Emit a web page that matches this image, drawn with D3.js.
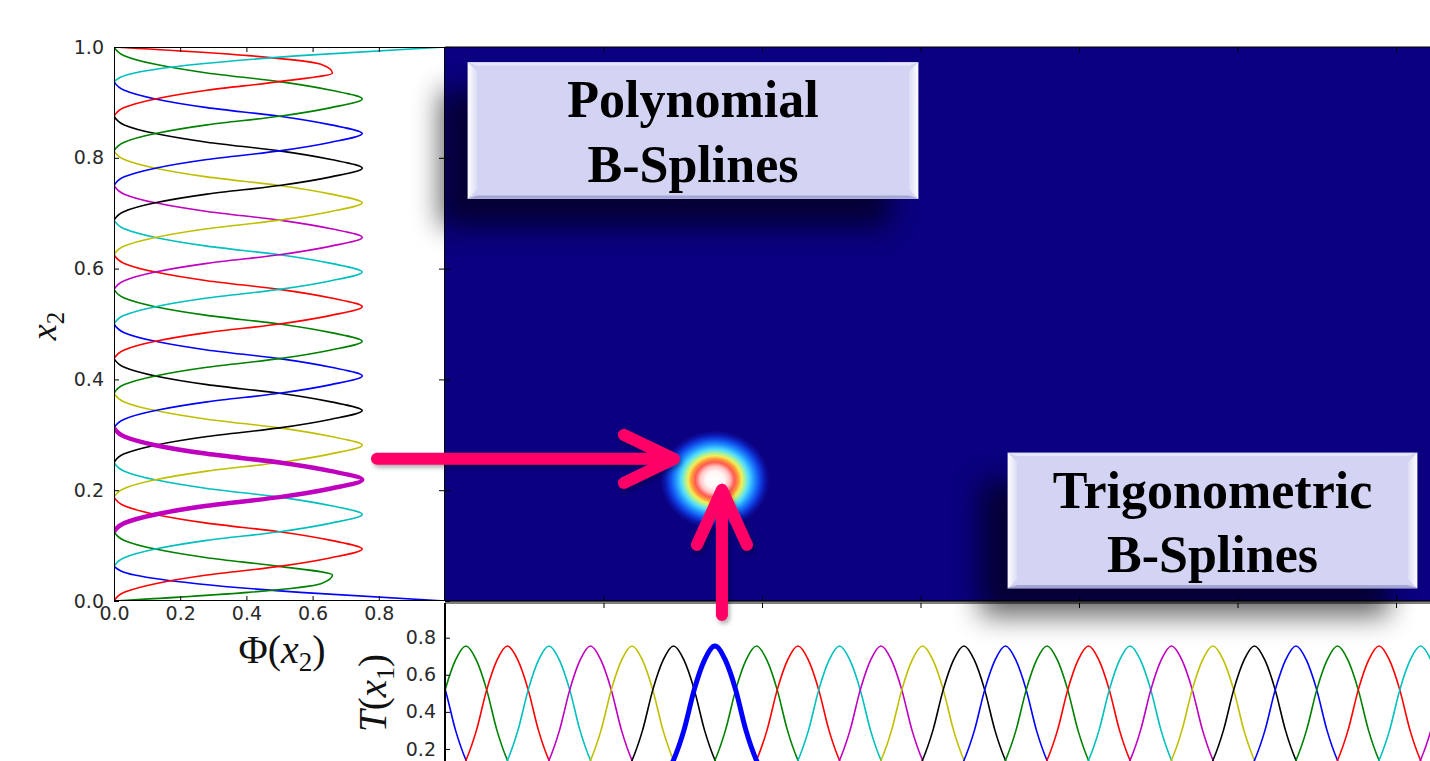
<!DOCTYPE html>
<html>
<head>
<meta charset="utf-8">
<script src="https://cdn.jsdelivr.net/npm/d3@7"></script>
<style>
  body { margin: 0; background: #fff; }
  svg { display: block; }
</style>
</head>
<body>
<div id="chart"></div>
<script>
// ---------------- values ----------------
// matplotlib classic colour cycle b g r c m y k
var lineColors = ['#0000ff', '#008000', '#ff0000', '#00bfbf', '#bf00bf', '#bfbf00', '#000000'];

// knots of the clamped quadratic (polynomial) B-splines along x2
var phiKnots = [0, 0.0625, 0.125, 0.1875, 0.25, 0.3125, 0.375, 0.4375, 0.5,
                0.5625, 0.625, 0.6875, 0.75, 0.8125, 0.875, 0.9375, 1];
// for each of the 18 basis functions: first knot of its support and its shape
var phiFrom  = [0, 0, 0, 1, 2, 3, 4, 5, 6, 7, 8, 9, 10, 11, 12, 13, 14, 15];
var phiShape = ['edge0', 'edge1', 'inner', 'inner', 'inner', 'inner', 'inner', 'inner', 'inner',
                'inner', 'inner', 'inner', 'inner', 'inner', 'inner', 'inner', 'edge1Rev', 'edge0Rev'];
var phiHighlight = 4;

// shapes of one basis function, read every quarter knot step
var profileStep = 0.25;
var profileInner = [0, 0.031, 0.125, 0.281, 0.5, 0.656, 0.75, 0.656, 0.5, 0.281, 0.125, 0.031, 0];
var profileEdge1 = [0, 0.406, 0.625, 0.66, 0.5, 0.281, 0.125, 0.031, 0];
var profileEdge0 = [1, 0.5625, 0.25, 0.0625, 0];

// trigonometric B-splines along x1: peak positions and shape (offsets -1.5 .. 1.5 spacings)
var tPeaks = [-0.0129, 0.0132, 0.0394, 0.0656, 0.0918, 0.1180, 0.1442, 0.1703, 0.1965,
              0.2227, 0.2489, 0.2751, 0.3013, 0.3274, 0.3536, 0.3798, 0.4060, 0.4322,
              0.4584, 0.4845, 0.5107, 0.5369, 0.5631, 0.5893, 0.6155, 0.6416, 0.6678];
var tProfile = [0, 0.035, 0.14, 0.30, 0.52, 0.68, 0.755, 0.68, 0.52, 0.30, 0.14, 0.035, 0];
var tHighlight = 7;

// tick values
var phiTicks = [0, 0.2, 0.4, 0.6, 0.8];
var x2Ticks = [0, 0.2, 0.4, 0.6, 0.8, 1.0];
var x1Ticks = [0.1, 0.2, 0.3, 0.4, 0.5, 0.6, 0.7, 0.8];
var tTicks = [0.2, 0.4, 0.6, 0.8];

var boxes = [
  { lines: ['Polynomial', 'B-Splines'] },
  { lines: ['Trigonometric', 'B-Splines'] }
];

// ---------------- layout ----------------
var W = 1430, H = 761;
var leftBox = { x0: 114, x1: 445, y0: 47, y1: 601 };
var bottomTop = 603;
var arrowColor = '#ff0066';
var tickFont = 19;

var phiX = d3.scaleLinear().domain([0, 1]).range([leftBox.x0, leftBox.x1]);
var x2Y = d3.scaleLinear().domain([0, 1]).range([leftBox.y1, leftBox.y0]);
var x1X = d3.scaleLinear().domain([0, 1]).range([445, 2030]);
var tY = d3.scaleLinear().domain([0, 0.8]).range([786, 637.7]);

var svg = d3.select('#chart').append('svg')
    .attr('width', W)
    .attr('height', H)
    .style('font-family', '"DejaVu Sans", sans-serif');

svg.append('rect').attr('width', W).attr('height', H).attr('fill', '#fff');

var defs = svg.append('defs');
defs.append('clipPath').attr('id', 'clipLeft').append('rect')
    .attr('x', leftBox.x0).attr('y', leftBox.y0)
    .attr('width', leftBox.x1 - leftBox.x0).attr('height', leftBox.y1 - leftBox.y0);
defs.append('clipPath').attr('id', 'clipBottom').append('rect')
    .attr('x', x1X(0)).attr('y', bottomTop).attr('width', W).attr('height', H - bottomTop);
defs.append('clipPath').attr('id', 'clipHeat').append('rect')
    .attr('x', x1X(0)).attr('y', leftBox.y0).attr('width', W).attr('height', leftBox.y1 - leftBox.y0);

var shadowBlur = defs.append('filter').attr('id', 'boxShadow')
    .attr('x', '-30%').attr('y', '-50%').attr('width', '160%').attr('height', '200%');
shadowBlur.append('feGaussianBlur').attr('stdDeviation', 14);

var arrowShadow = defs.append('filter').attr('id', 'arrowShadow')
    .attr('x', '-20%').attr('y', '-20%').attr('width', '140%').attr('height', '140%');
arrowShadow.append('feDropShadow').attr('dx', 2).attr('dy', 3).attr('stdDeviation', 2)
    .attr('flood-color', '#000').attr('flood-opacity', 0.3);

var bevelL = defs.append('linearGradient').attr('id', 'bevelL').attr('x1', 0).attr('x2', 1).attr('y1', 0).attr('y2', 0);
bevelL.append('stop').attr('offset', '0%').attr('stop-color', '#fff').attr('stop-opacity', 0.95);
bevelL.append('stop').attr('offset', '100%').attr('stop-color', '#fff').attr('stop-opacity', 0.2);
var bevelR = defs.append('linearGradient').attr('id', 'bevelR').attr('x1', 1).attr('x2', 0).attr('y1', 0).attr('y2', 0);
bevelR.append('stop').attr('offset', '0%').attr('stop-color', '#fff').attr('stop-opacity', 0.95);
bevelR.append('stop').attr('offset', '100%').attr('stop-color', '#fff').attr('stop-opacity', 0.2);

// colour ramp of the image, centre -> outside
var blobStops = [
  [0.00, '#ffffff'], [0.17, '#fff6f6'], [0.27, '#ffc4c4'], [0.36, '#ff5a50'],
  [0.43, '#ff9a3a'], [0.49, '#f2ee58'], [0.55, '#a4f0a0'], [0.62, '#50dcff'],
  [0.72, '#2090ff'], [0.82, '#1048e8'], [0.91, '#0c18b0'], [1.00, '#0a0080']
];
var blobGrad = defs.append('radialGradient').attr('id', 'blobGrad');
blobGrad.selectAll('stop').data(blobStops).enter().append('stop')
    .attr('offset', function(d) { return (d[0] * 100) + '%'; })
    .attr('stop-color', function(d) { return d[1]; });

// ---------------- heat map ----------------
var heat = svg.append('g').attr('clip-path', 'url(#clipHeat)');
heat.append('rect')
    .attr('x', x1X(0)).attr('y', leftBox.y0)
    .attr('width', W).attr('height', leftBox.y1 - leftBox.y0)
    .attr('fill', '#0a0080');

var phiStepX2 = phiKnots[1] - phiKnots[0];
var tSpacing = tPeaks[1] - tPeaks[0];
var blobX2 = phiKnots[phiFrom[phiHighlight]] + 1.5 * phiStepX2;
var blobX1 = tPeaks[tHighlight];
var blobCx = x1X(blobX1), blobCy = x2Y(blobX2);
heat.append('ellipse')
    .attr('cx', blobCx).attr('cy', blobCy)
    .attr('rx', x1X(blobX1 + 1.32 * tSpacing) - blobCx)
    .attr('ry', blobCy - x2Y(blobX2 + 1.42 * phiStepX2))
    .attr('fill', 'url(#blobGrad)');

// heat map spines and inward ticks
svg.append('line').attr('x1', x1X(0)).attr('x2', W).attr('y1', leftBox.y0).attr('y2', leftBox.y0)
    .attr('stroke', '#000').attr('stroke-width', 1.2);
svg.append('line').attr('x1', x1X(0)).attr('x2', W).attr('y1', leftBox.y1).attr('y2', leftBox.y1)
    .attr('stroke', '#000').attr('stroke-width', 1.5);
svg.append('g').attr('transform', 'translate(0,' + leftBox.y1 + ')')
    .call(d3.axisBottom(x1X).tickValues(x1Ticks).tickSizeInner(-5).tickSizeOuter(0).tickFormat(''))
    .call(function(g) { g.select('.domain').remove(); g.selectAll('line').attr('stroke', '#000'); });
svg.append('g').attr('transform', 'translate(0,' + leftBox.y0 + ')')
    .call(d3.axisTop(x1X).tickValues(x1Ticks).tickSizeInner(-5).tickSizeOuter(0).tickFormat(''))
    .call(function(g) { g.select('.domain').remove(); g.selectAll('line').attr('stroke', '#000'); });
svg.append('g').attr('transform', 'translate(' + x1X(0) + ',0)')
    .call(d3.axisLeft(x2Y).tickValues(x2Ticks).tickSizeInner(-5).tickSizeOuter(0).tickFormat(''))
    .call(function(g) { g.select('.domain').remove(); g.selectAll('line').attr('stroke', '#000'); });

// ---------------- left panel: Phi(x2) ----------------
var shapes = { inner: profileInner, edge1: profileEdge1, edge0: profileEdge0 };

function phiPoints(i) {
  var name = phiShape[i];
  var rev = name.slice(-3) === 'Rev';
  var prof = shapes[rev ? name.slice(0, -3) : name];
  if (rev) prof = prof.slice().reverse();
  var start = phiKnots[phiFrom[i]];
  return prof.map(function(v, j) {
    return [start + j * profileStep * phiStepX2, v];
  }).reverse();
}

var phiLine = d3.line()
    .x(function(d) { return phiX(d[1]); })
    .y(function(d) { return x2Y(d[0]); })
    .curve(d3.curveMonotoneY);

var leftG = svg.append('g').attr('clip-path', 'url(#clipLeft)');
leftG.selectAll('path.phi')
    .data(d3.range(phiShape.length).filter(function(i) { return i !== phiHighlight; }).concat([phiHighlight]))
    .enter().append('path')
    .attr('class', 'phi')
    .attr('fill', 'none')
    .attr('stroke', function(i) { return lineColors[i % lineColors.length]; })
    .attr('stroke-width', function(i) { return i === phiHighlight ? 4.5 : 1.6; })
    .attr('d', function(i) { return phiLine(phiPoints(i)); });

leftG.append('rect')
    .attr('x', leftBox.x0).attr('y', leftBox.y0)
    .attr('width', leftBox.x1 - leftBox.x0).attr('height', leftBox.y1 - leftBox.y0)
    .attr('fill', 'none').attr('stroke', '#000').attr('stroke-width', 2);

function styleAxis(g) {
  g.select('.domain').remove();
  g.attr('font-size', tickFont).attr('font-family', '"DejaVu Sans", sans-serif');
  g.selectAll('line').attr('stroke', '#000');
  g.selectAll('text').attr('fill', '#2a2a2a').style('font-size', tickFont + 'px')
      .style('font-family', '"DejaVu Sans", sans-serif');
}

svg.append('g').attr('transform', 'translate(' + leftBox.x0 + ',0)')
    .call(d3.axisLeft(x2Y).tickValues(x2Ticks).tickSizeInner(-5).tickSizeOuter(0)
        .tickPadding(10).tickFormat(d3.format('.1f')))
    .call(styleAxis);
svg.append('g').attr('transform', 'translate(' + leftBox.x1 + ',0)')
    .call(d3.axisRight(x2Y).tickValues(x2Ticks.slice(1, -1)).tickSizeInner(-6).tickSizeOuter(0).tickFormat(''))
    .call(styleAxis);
svg.append('g').attr('transform', 'translate(0,' + leftBox.y1 + ')')
    .call(d3.axisBottom(phiX).tickValues(phiTicks).tickSizeInner(-5).tickSizeOuter(0)
        .tickPadding(6).tickFormat(d3.format('.1f')))
    .call(styleAxis);
svg.append('g').attr('transform', 'translate(0,' + leftBox.y0 + ')')
    .call(d3.axisTop(phiX).tickValues(phiTicks.slice(1)).tickSizeInner(-5).tickSizeOuter(0).tickFormat(''))
    .call(styleAxis);

// ---------------- bottom panel: T(x1) ----------------
function tPoints(p) {
  return tProfile.map(function(v, j) {
    return [p + (j * profileStep - 1.5) * tSpacing, v];
  });
}
var tLine = d3.line()
    .x(function(d) { return x1X(d[0]); })
    .y(function(d) { return tY(d[1]); })
    .curve(d3.curveMonotoneX);

var bottomG = svg.append('g').attr('clip-path', 'url(#clipBottom)');
bottomG.selectAll('path.trig')
    .data(d3.range(tPeaks.length).filter(function(i) { return i !== tHighlight; }).concat([tHighlight]))
    .enter().append('path')
    .attr('class', 'trig')
    .attr('fill', 'none')
    .attr('stroke', function(i) { return lineColors[i % lineColors.length]; })
    .attr('stroke-width', function(i) { return i === tHighlight ? 5 : 1.6; })
    .attr('d', function(i) { return tLine(tPoints(tPeaks[i])); });

svg.append('line').attr('x1', x1X(0)).attr('x2', W).attr('y1', bottomTop).attr('y2', bottomTop)
    .attr('stroke', '#000').attr('stroke-width', 1.2);
svg.append('line').attr('x1', x1X(0)).attr('x2', x1X(0)).attr('y1', bottomTop).attr('y2', H)
    .attr('stroke', '#000').attr('stroke-width', 2);
svg.append('g').attr('transform', 'translate(0,' + bottomTop + ')')
    .call(d3.axisTop(x1X).tickValues(x1Ticks).tickSizeInner(-5).tickSizeOuter(0).tickFormat(''))
    .call(styleAxis);
svg.append('g').attr('transform', 'translate(' + x1X(0) + ',0)')
    .call(d3.axisLeft(tY).tickValues(tTicks).tickSizeInner(-5).tickSizeOuter(0)
        .tickPadding(9).tickFormat(d3.format('.1f')))
    .call(styleAxis);

// ---------------- axis labels (math style) ----------------
var mathFont = '"Liberation Serif", "DejaVu Serif", serif';
var phiLabel = svg.append('text')
    .attr('x', 282).attr('y', 663)
    .attr('text-anchor', 'middle')
    .style('font-family', mathFont).style('font-size', '40px').attr('fill', '#111');
phiLabel.append('tspan').text('\u03A6(');
phiLabel.append('tspan').style('font-style', 'italic').text('x');
phiLabel.append('tspan').attr('dy', 8).style('font-size', '27px').text('2');
phiLabel.append('tspan').attr('dy', -8).text(')');

var x2Label = svg.append('text')
    .attr('transform', 'translate(56,326) rotate(-90)')
    .attr('text-anchor', 'middle')
    .style('font-family', mathFont).style('font-size', '36px').attr('fill', '#111');
x2Label.append('tspan').style('font-style', 'italic').text('x');
x2Label.append('tspan').attr('dy', 8).style('font-size', '25px').text('2');

var tLabel = svg.append('text')
    .attr('transform', 'translate(386,693) rotate(-90)')
    .attr('text-anchor', 'middle')
    .style('font-family', mathFont).style('font-size', '39px').attr('fill', '#111');
tLabel.append('tspan').style('font-style', 'italic').text('T');
tLabel.append('tspan').text('(');
tLabel.append('tspan').style('font-style', 'italic').text('x');
tLabel.append('tspan').attr('dy', 8).style('font-size', '26px').text('1');
tLabel.append('tspan').attr('dy', -8).text(')');

// ---------------- callout boxes ----------------
var boxGeom = [
  { x: 468, y: 62.5, w: 450, h: 136, base: [116.7, 181.7] },
  { x: 1008, y: 453, w: 409, h: 135, base: [508.3, 571.7] }
];
var shadowOffset = 28;

svg.selectAll('rect.shadow').data(boxGeom).enter().append('rect')
    .attr('class', 'shadow')
    .attr('x', function(d) { return d.x - shadowOffset; })
    .attr('y', function(d) { return d.y + shadowOffset; })
    .attr('width', function(d) { return d.w; })
    .attr('height', function(d) { return d.h; })
    .attr('fill', '#000').attr('opacity', 0.6)
    .attr('filter', 'url(#boxShadow)');

var bev = 9;
var boxG = svg.selectAll('g.callout').data(boxGeom).enter().append('g').attr('class', 'callout');
boxG.append('rect')
    .attr('x', function(d) { return d.x; }).attr('y', function(d) { return d.y; })
    .attr('width', function(d) { return d.w; }).attr('height', function(d) { return d.h; })
    .attr('fill', '#d3d3f3').attr('stroke', '#c2c2ea').attr('stroke-width', 1);
boxG.append('polygon').attr('fill', 'url(#bevelL)')
    .attr('points', function(d) {
      return [[d.x, d.y], [d.x + bev, d.y + bev], [d.x + bev, d.y + d.h - bev], [d.x, d.y + d.h]].join(' ');
    });
boxG.append('polygon').attr('fill', 'url(#bevelR)')
    .attr('points', function(d) {
      var r = d.x + d.w;
      return [[r, d.y], [r - bev, d.y + bev], [r - bev, d.y + d.h - bev], [r, d.y + d.h]].join(' ');
    });
boxG.append('polygon').attr('fill', '#ffffff').attr('opacity', 0.45)
    .attr('points', function(d) {
      return [[d.x, d.y], [d.x + d.w, d.y], [d.x + d.w - bev, d.y + 3], [d.x + bev, d.y + 3]].join(' ');
    });
boxG.append('polygon').attr('fill', '#8080b8').attr('opacity', 0.55)
    .attr('points', function(d) {
      var b = d.y + d.h;
      return [[d.x, b], [d.x + d.w, b], [d.x + d.w - bev, b - 3], [d.x + bev, b - 3]].join(' ');
    });
boxG.each(function(d, i) {
  var g = d3.select(this);
  boxes[i].lines.forEach(function(line, k) {
    g.append('text')
        .attr('x', d.x + d.w / 2).attr('y', d.base[k])
        .attr('text-anchor', 'middle')
        .style('font-family', '"Liberation Serif", "Times New Roman", serif')
        .style('font-weight', 'bold').style('font-size', '52px')
        .attr('fill', '#000')
        .text(line);
  });
});

// ---------------- arrows ----------------
var arrows = [
  { tail: [blobCx - 338, blobCy - 21], tip: [blobCx - 41, blobCy - 21],
    arms: [[blobCx - 91, blobCy - 45], [blobCx - 91, blobCy + 3]] },
  { tail: [blobCx + 7, 615], tip: [blobCx + 7, blobCy + 10],
    arms: [[blobCx - 18, blobCy + 65], [blobCx + 32, blobCy + 65]] }
];
var arrowG = svg.append('g').attr('filter', 'url(#arrowShadow)');
arrows.forEach(function(a) {
  arrowG.append('path')
      .attr('d', d3.line()([a.tail, a.tip]) + d3.line()([a.arms[0], a.tip, a.arms[1]]))
      .attr('fill', 'none')
      .attr('stroke', arrowColor)
      .attr('stroke-width', 12)
      .attr('stroke-linecap', 'round')
      .attr('stroke-linejoin', 'round');
});
</script>
</body>
</html>
